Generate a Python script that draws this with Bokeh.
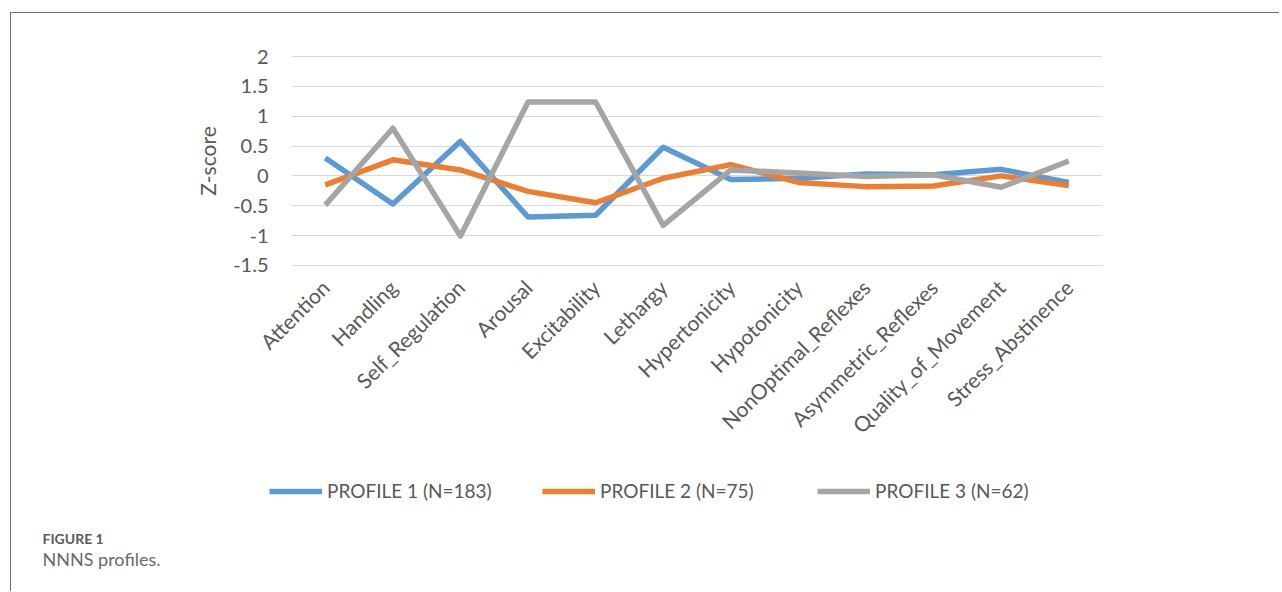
import math
from bokeh.plotting import figure
from bokeh.layouts import column, row
from bokeh.models import (FactorRange, Range1d, FixedTicker, Legend, LegendItem, Label)
from bokeh.embed import file_html
from bokeh.resources import INLINE

categories = ["Attention", "Handling", "Self_Regulation", "Arousal", "Excitability",
              "Lethargy", "Hypertonicity", "Hypotonicity", "NonOptimal_Reflexes",
              "Asymmetric_Reflexes", "Quality_of_Movement", "Stress_Abstinence"]
profile1 = [0.30, -0.47, 0.58, -0.69, -0.66, 0.48, -0.06, -0.04, 0.03, 0.02, 0.11, -0.11]
profile2 = [-0.15, 0.27, 0.10, -0.26, -0.45, -0.04, 0.19, -0.11, -0.18, -0.17, 0.00, -0.16]
profile3 = [-0.49, 0.80, -1.01, 1.24, 1.24, -0.83, 0.10, 0.05, -0.01, 0.02, -0.19, 0.25]
series_names = ["PROFILE 1 (N=183)", "PROFILE 2 (N=75)", "PROFILE 3 (N=62)"]
y_ticks = [-1.5, -1.0, -0.5, 0.0, 0.5, 1.0, 1.5, 2.0]
y_tick_labels = ["-1.5", "-1", "-0.5", "0", "0.5", "1", "1.5", "2"]
caption_title = "FIGURE 1"
caption_text = "NNNS profiles."

colors = ["#5B9BD5", "#ED7D31", "#A5A5A5"]
FONT = "Lato"
TXT = "#595959"
LW = 5.5
W = 1268

p = figure(width=W, height=441, x_range=FactorRange(*categories, range_padding=0),
           y_range=Range1d(-1.52, 2.02), output_backend="svg", toolbar_location=None,
           min_border_left=280, min_border_right=177, min_border_top=42,
           min_border_bottom=188)
p.outline_line_color = None
p.background_fill_color = "white"
p.border_fill_color = "white"

for vals, c in zip([profile1, profile2, profile3], colors):
    p.line(categories, vals, line_color=c, line_width=LW, line_join="round")

p.yaxis.ticker = FixedTicker(ticks=y_ticks)
p.yaxis.major_label_overrides = {t: l for t, l in zip(y_ticks, y_tick_labels)}
p.yaxis.axis_line_color = None
p.yaxis.major_tick_line_color = None
p.yaxis.minor_tick_line_color = None
p.yaxis.major_tick_out = 0
p.yaxis.major_tick_in = 0
p.yaxis.major_label_standoff = 23
p.yaxis.major_label_text_font = FONT
p.yaxis.major_label_text_font_size = "20px"
p.yaxis.major_label_text_color = TXT
p.yaxis.axis_label = "Z-score"
p.yaxis.axis_label_text_font = FONT
p.yaxis.axis_label_text_font_size = "21px"
p.yaxis.axis_label_text_font_style = "normal"
p.yaxis.axis_label_text_color = TXT
p.yaxis.axis_label_standoff = 10

p.xaxis.axis_line_color = None
p.xaxis.major_tick_line_color = None
p.xaxis.minor_tick_line_color = None
p.xaxis.major_tick_out = 0
p.xaxis.major_tick_in = 0
p.xaxis.major_label_orientation = math.pi / 4
p.xaxis.major_label_standoff = 17
p.xaxis.major_label_text_font = FONT
p.xaxis.major_label_text_font_size = "21px"
p.xaxis.major_label_text_color = TXT

p.xgrid.grid_line_color = None
p.ygrid.grid_line_color = "#D9D9D9"
p.ygrid.grid_line_width = 1.2

# lower panel: legend and caption
H2 = 137
p2 = figure(width=W, height=H2, x_range=Range1d(0, W), y_range=Range1d(0, H2),
            output_backend="svg", toolbar_location=None, min_border=0,
            min_border_left=0, min_border_right=0, min_border_top=0,
            min_border_bottom=0)
p2.axis.visible = False
p2.grid.grid_line_color = None
p2.outline_line_color = None
p2.background_fill_color = "white"
p2.border_fill_color = "white"

nan = float("nan")
leg_x = [258, 531, 806]
for name, c, lx in zip(series_names, colors, leg_x):
    r = p2.line(x=[nan, nan], y=[nan, nan], line_color=c, line_width=LW)
    lg = Legend(items=[LegendItem(label=name, renderers=[r])], location=(lx, 89),
                orientation="horizontal", padding=0, margin=0, spacing=0,
                glyph_width=53, glyph_height=20, label_height=20, label_standoff=5,
                label_text_font=FONT, label_text_font_size="19px",
                label_text_color=TXT, border_line_color=None,
                background_fill_alpha=0)
    p2.add_layout(lg, "center")

p2.add_layout(Label(x=31, y=53, text=caption_title, text_font=FONT,
                    text_font_size="14px", text_font_style="bold",
                    text_color="#5a5a5a", text_baseline="middle"))
p2.add_layout(Label(x=31, y=33, text=caption_text, text_font=FONT,
                    text_font_size="18px", text_color="#6a6a6a",
                    text_baseline="middle"))

layout = column(p, row(p2), spacing=0, margin=(12, 0, 0, 10),
                styles={"border-left": "1.5px solid #6e6e6e",
                        "border-top": "1.5px solid #6e6e6e"})

open("out.html", "w").write(file_html(layout, INLINE))
